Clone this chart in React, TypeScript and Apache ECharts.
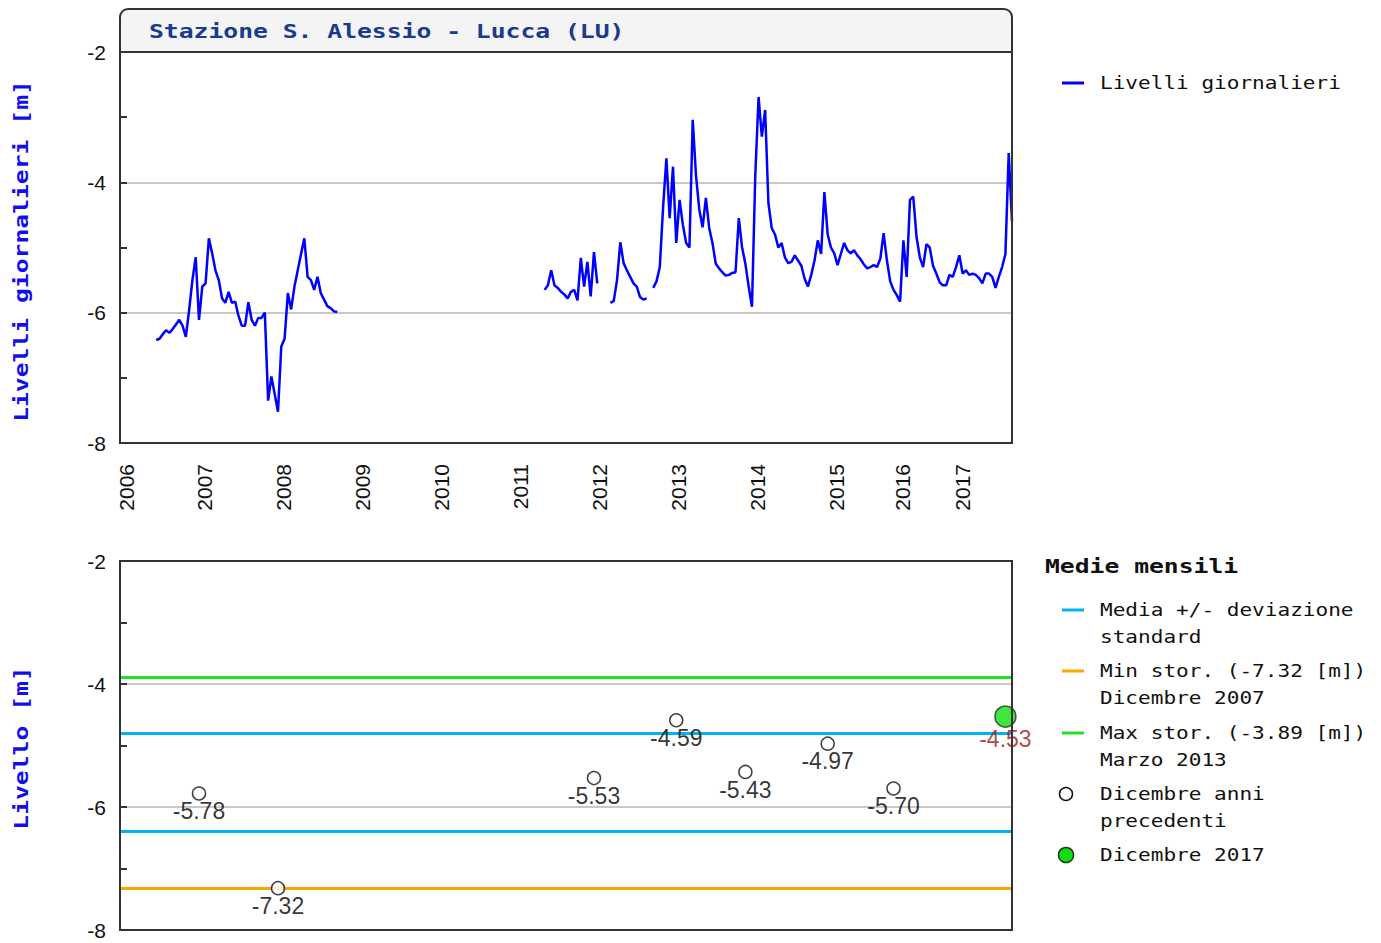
import { useEffect, useRef } from 'react';
import * as echarts from 'echarts';

// ---- Asse temporale (campioni semi-mensili per anno) ----
const years = [2006, 2007, 2008, 2009, 2010, 2011, 2012, 2013, 2014, 2015, 2016, 2017];
const samplesPerYear = [24, 24, 24, 24, 24, 24, 24, 24, 24, 20, 18, 18];

// ---- Livelli giornalieri [m] ----
const livelli2006 = [null, null, null, null, null, null, null, null, null, null, null,
  -6.42, -6.40, -6.33, -6.27, -6.31, -6.25, -6.18, -6.11, -6.20, -6.37, -5.96, -5.50, -5.15];
const livelli2007 = [-6.11, -5.60, -5.55, -4.86, -5.09, -5.35, -5.50, -5.78, -5.85, -5.68, -5.85, -5.83,
  -6.05, -6.20, -6.20, -5.84, -6.11, -6.20, -6.08, -6.08, -6.00, -7.35, -6.98, -7.25];
const livelli2008 = [-7.52, -6.52, -6.40, -5.70, -5.95, -5.60, -5.35, -5.10, -4.86, -5.45, -5.50, -5.65,
  -5.45, -5.70, -5.80, -5.90, -5.93, -5.98, -5.99, null, null, null, null, null];
const livelli2009 = [null, null, null, null, null, null, null, null, null, null, null, null,
  null, null, null, null, null, null, null, null, null, null, null, null];
const livelli2010 = [null, null, null, null, null, null, null, null, null, null, null, null,
  null, null, null, null, null, null, null, null, null, null, null, null];
const livelli2011 = [null, null, null, null, null, null, null, null, null,
  -5.65, -5.58, -5.35, -5.58, -5.62, -5.68, -5.72, -5.78, -5.68, -5.65, -5.81, -5.16, -5.60, -5.22, -5.75];
const livelli2012 = [-5.07, -5.55, null, null, null, -5.85, -5.82, -5.50, -4.92, -5.24, -5.35, -5.45,
  -5.55, -5.60, -5.76, -5.80, -5.78, null, -5.62, -5.52, -5.30, -4.38, -3.63, -4.55];
const livelli2013 = [-3.76, -4.93, -4.27, -4.65, -4.93, -5.00, -3.04, -3.90, -4.42, -4.69, -4.24, -4.70,
  -4.93, -5.25, -5.32, -5.38, -5.43, -5.42, -5.39, -5.38, -4.55, -5.00, -5.25, -5.60];
const livelli2014 = [-5.91, -3.90, -2.69, -3.30, -2.89, -4.32, -4.70, -4.80, -5.00, -4.93, -5.15, -5.24,
  -5.22, -5.12, -5.20, -5.28, -5.48, -5.60, -5.42, -5.20, -4.89, -5.10, -4.15, -4.80];
const livelli2015 = [-5.00, -5.09, -5.27, -5.10, -4.93, -5.04, -5.09, -5.04, -5.12, -5.18, -5.26, -5.32,
  -5.30, -5.27, -5.30, -5.17, -4.78, -5.20, -5.52, -5.65];
const livelli2016 = [-5.73, -5.83, -4.89, -5.45, -4.27, -4.22, -4.84, -5.15, -5.30, -4.95, -5.00, -5.28,
  -5.40, -5.53, -5.58, -5.58, -5.42, -5.45];
const livelli2017 = [-5.30, -5.12, -5.40, -5.35, -5.42, -5.40, -5.42, -5.47, -5.55, -5.40, -5.40, -5.45,
  -5.62, -5.45, -5.30, -5.10, -3.55, -4.60];

// ---- Medie mensili di dicembre ----
const dicembreSlot = ['2007-01', '2008-01', '2012-01', '2013-02', '2013-23', '2014-24', '2015-20'];
const dicembreValori = [-5.78, -7.32, -5.53, -4.59, -5.43, -4.97, -5.70];
const dicembre2017Slot = '2017-16';
const dicembre2017Valore = -4.53;
const maxStorico = -3.89;
const minStorico = -7.32;
const mediaPiuDev = -4.80;
const mediaMenoDev = -6.39;

const yTicks = { min: -8, max: -2, interval: 2 };

const MONO = '"DejaVu Sans Mono", "Liberation Mono", monospace';
const SANS = '"Liberation Sans", Arial, sans-serif';

const categories: string[] = [];
years.forEach((y, i) => {
  for (let k = 1; k <= samplesPerYear[i]; k++) categories.push(`${y}-${String(k).padStart(2, '0')}`);
});
const livelli = [
  ...livelli2006, ...livelli2007, ...livelli2008, ...livelli2009, ...livelli2010, ...livelli2011,
  ...livelli2012, ...livelli2013, ...livelli2014, ...livelli2015, ...livelli2016, ...livelli2017,
];

const GRID_TOP = { left: 120, top: 52, width: 892, height: 391 };
const GRID_BOTTOM = { left: 120, top: 561, width: 892, height: 369 };

function yAxisCfg(gridIndex: number) {
  return {
    gridIndex,
    type: 'value',
    min: yTicks.min,
    max: yTicks.max,
    interval: yTicks.interval,
    axisLine: { show: true, lineStyle: { color: '#333', width: 2 } },
    axisTick: { show: true, inside: true, length: 7, lineStyle: { color: '#333', width: 2 } },
    minorTick: { show: true, splitNumber: 2, length: 7, lineStyle: { color: '#333', width: 2 } },
    splitLine: { show: true, lineStyle: { color: '#c8c8c8', width: 2 } },
    minorSplitLine: { show: false },
    axisLabel: { fontSize: 21, fontFamily: SANS, color: '#111', margin: 14 },
  };
}

function legendText(x: number, y: number, text: string) {
  return {
    type: 'text', x, y, scaleX: 1.24, z: 10,
    style: {
      text, fontSize: 17, fontFamily: MONO, fill: '#111',
      align: 'left', verticalAlign: 'middle', textAlign: 'left', textVerticalAlign: 'middle',
    },
  };
}
function legendLine(y: number, color: string) {
  return {
    type: 'line', z: 10,
    shape: { x1: 1062, y1: y, x2: 1084, y2: y },
    style: { stroke: color, lineWidth: 3 },
  };
}
function boldText(x: number, y: number, text: string, fill: string, rotated: boolean, align = 'left') {
  return {
    type: 'text', x, y, scaleX: 1.3, rotation: rotated ? Math.PI / 2 : 0, z: 10,
    style: {
      text, fontSize: 19, fontWeight: 'bold', fontFamily: MONO, fill,
      align, verticalAlign: 'middle', textAlign: align, textVerticalAlign: 'middle',
    },
  };
}
function frame(g: { left: number; top: number; width: number; height: number }) {
  return {
    type: 'rect', z: 20, silent: true,
    shape: { x: g.left, y: g.top, width: g.width, height: g.height },
    style: { fill: 'none', stroke: '#333', lineWidth: 2 },
  };
}

export default function App() {
  const ref = useRef<HTMLDivElement>(null);
  useEffect(() => {
    if (!ref.current) return;
    const chart = echarts.init(ref.current, undefined, { renderer: 'svg' });
    chart.setOption({
      animation: false,
      backgroundColor: '#fff',
      grid: [
        { ...GRID_TOP, show: true, borderWidth: 0, backgroundColor: '#fff' },
        { ...GRID_BOTTOM, show: true, borderWidth: 0, backgroundColor: '#fff' },
      ],
      xAxis: [
        {
          gridIndex: 0, type: 'category', data: categories, boundaryGap: false,
          axisLine: { show: false }, axisTick: { show: false }, splitLine: { show: false },
          axisLabel: {
            interval: (_i: number, v: string) => v.endsWith('-01'),
            formatter: (v: string) => v.slice(0, 4),
            rotate: 90, margin: 21, fontSize: 21, fontFamily: SANS, color: '#111',
            verticalAlign: 'top', lineHeight: 12,
          },
        },
        {
          gridIndex: 1, type: 'category', data: categories, boundaryGap: false,
          axisLine: { show: false }, axisTick: { show: false }, axisLabel: { show: false }, splitLine: { show: false },
        },
      ],
      yAxis: [yAxisCfg(0), yAxisCfg(1)],
      series: [
        {
          name: 'Livelli giornalieri', type: 'line', xAxisIndex: 0, yAxisIndex: 0,
          data: livelli, showSymbol: false, symbol: 'none', connectNulls: false,
          lineStyle: { color: '#0000ff', width: 2.5 },
        },
        {
          name: 'Dicembre anni precedenti', type: 'scatter', xAxisIndex: 1, yAxisIndex: 1, z: 5,
          data: dicembreSlot.map((s, i) => [s, dicembreValori[i]]),
          symbol: 'circle', symbolSize: 13,
          itemStyle: { color: '#fff', borderColor: '#111', borderWidth: 1.5 },
          label: {
            show: true, position: 'bottom', distance: -1,
            formatter: (p: any) => p.value[1].toFixed(2),
            fontSize: 23, fontFamily: SANS, color: '#000',
          },
          markLine: {
            silent: true, symbol: ['none', 'none'], label: { show: false }, z: 3,
            data: [
              { yAxis: maxStorico, lineStyle: { color: '#22e022', width: 3, type: 'solid' } },
              { yAxis: mediaPiuDev, lineStyle: { color: '#00b4f0', width: 3, type: 'solid' } },
              { yAxis: mediaMenoDev, lineStyle: { color: '#00b4f0', width: 3, type: 'solid' } },
              { yAxis: minStorico, lineStyle: { color: '#ffa500', width: 3, type: 'solid' } },
            ],
          },
        },
        {
          name: 'Dicembre 2017', type: 'scatter', xAxisIndex: 1, yAxisIndex: 1, z: 6,
          data: [[dicembre2017Slot, dicembre2017Valore]],
          symbol: 'circle', symbolSize: 21,
          itemStyle: { color: '#11dd11', borderColor: '#1c3a1c', borderWidth: 1.5 },
          label: {
            show: true, position: 'bottom', distance: 0,
            formatter: (p: any) => p.value[1].toFixed(2),
            fontSize: 23, fontFamily: SANS, color: '#a01515',
          },
        },
      ],
      graphic: [
        {
          type: 'rect', z: 9,
          shape: { x: 120, y: 9, width: 892, height: 43, r: [8, 8, 0, 0] },
          style: { fill: '#f4f4f4', stroke: '#333', lineWidth: 2 },
        },
        frame(GRID_TOP),
        frame(GRID_BOTTOM),
        boldText(149, 32, 'Stazione S. Alessio - Lucca (LU)', '#1a3a8f', false),
        boldText(22, 251, 'Livelli giornalieri [m]', '#1010ee', true, 'center'),
        boldText(22, 748, 'Livello [m]', '#1010ee', true, 'center'),
        legendLine(83, '#0000ff'),
        legendText(1100, 83, 'Livelli giornalieri'),
        boldText(1045, 567, 'Medie mensili', '#111', false),
        legendLine(610, '#00b4f0'),
        legendText(1100, 610, 'Media +/- deviazione'),
        legendText(1100, 637, 'standard'),
        legendLine(671, '#ffa500'),
        legendText(1100, 671, 'Min stor. (-7.32 [m])'),
        legendText(1100, 698, 'Dicembre 2007'),
        legendLine(733, '#22e022'),
        legendText(1100, 733, 'Max stor. (-3.89 [m])'),
        legendText(1100, 760, 'Marzo 2013'),
        {
          type: 'circle', z: 10, shape: { cx: 1066, cy: 794, r: 6.5 },
          style: { fill: '#fff', stroke: '#111', lineWidth: 1.5 },
        },
        legendText(1100, 794, 'Dicembre anni'),
        legendText(1100, 821, 'precedenti'),
        {
          type: 'circle', z: 10, shape: { cx: 1066, cy: 855, r: 7.5 },
          style: { fill: '#11dd11', stroke: '#1c3a1c', lineWidth: 1.5 },
        },
        legendText(1100, 855, 'Dicembre 2017'),
      ],
    });
    return () => chart.dispose();
  }, []);
  return (
    <div
      ref={ref}
      style={{ position: 'absolute', left: 0, top: 0, width: 1381, height: 943, background: '#fff' }}
    />
  );
}
